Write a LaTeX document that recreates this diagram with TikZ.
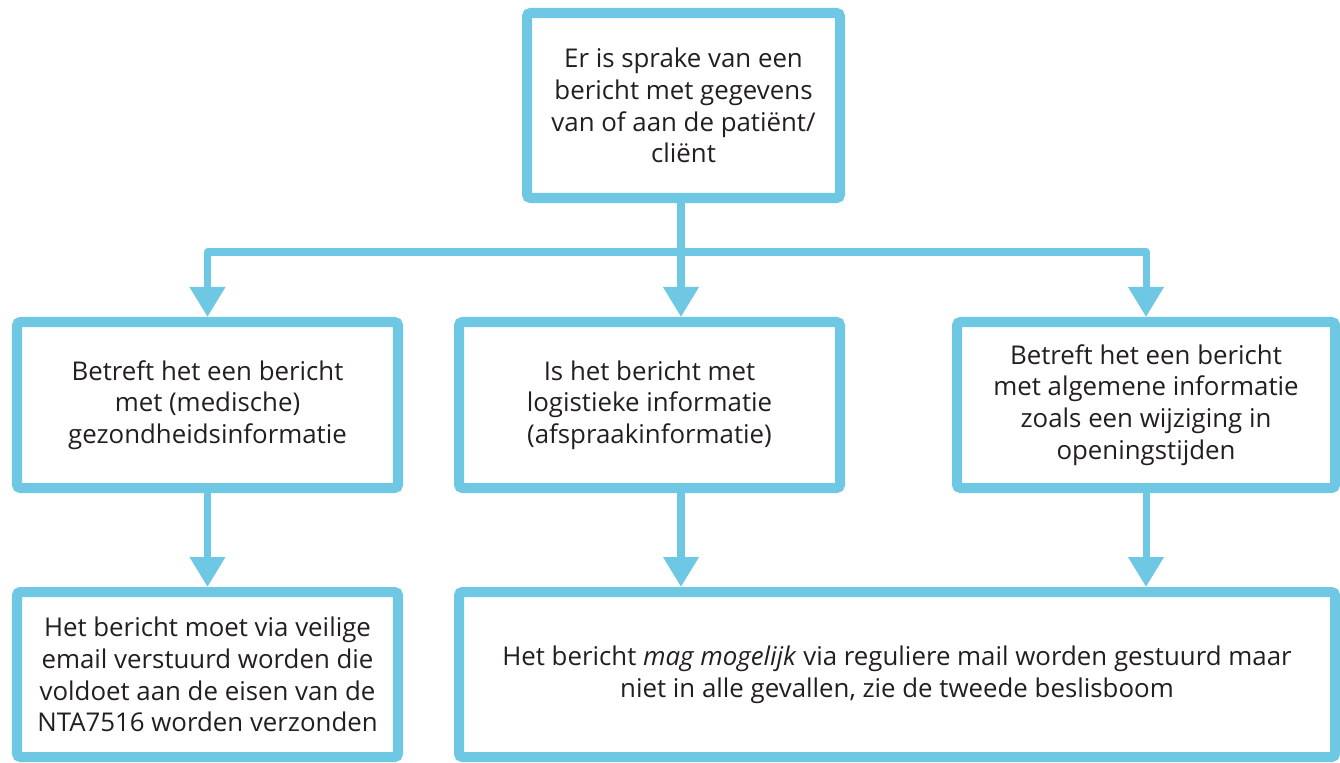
\documentclass[tikz,border=0pt]{standalone}
\usepackage{fontspec}
\setmainfont{Open Sans}
\usetikzlibrary{arrows.meta}
\definecolor{flowblue}{HTML}{6EC8E4}
\definecolor{flowtext}{HTML}{231F20}

\begin{document}
\begin{tikzpicture}[x=1cm, y=1cm]
                \tikzset{Box/.style = {draw=flowblue, line width=5.7pt, rounded corners=2pt, fill=white,
                                       text=flowtext, align=center, inner sep=0pt,
                                       font=\fontsize{14.7}{18}\selectfont},
                         Line/.style = {draw=flowblue, line width=4pt, line join=round},
                         Flow/.style = {Line, -{Triangle[width=0.68cm, length=0.6cm]}}}
                \useasboundingbox (0,0) rectangle (26.8,-15.24);
                \node[Box, minimum width=6.26cm, minimum height=3.7cm] (Q0) at (13.67,-2.11)
                        {Er is sprake van een\\bericht met gegevens\\van of aan de patiënt/\\cliënt};
                \node[Box, minimum width=7.62cm, minimum height=3.32cm] (Q1) at (4.15,-8.10)
                        {Betreft het een bericht\\met (medische)\\gezondheidsinformatie};
                \node[Box, minimum width=7.62cm, minimum height=3.32cm] (Q2) at (12.99,-8.10)
                        {Is het bericht met\\logistieke informatie\\(afspraakinformatie)};
		\node[Box, minimum width=7.56cm, minimum height=3.32cm] (Q3) at (22.92,-8.10)
                        {Betreft het een bericht\\met algemene informatie\\zoals een wijziging in\\openingstijden};
                \node[Box, minimum width=7.62cm, minimum height=3.30cm] (A1) at (4.15,-13.49)
                        {Het bericht moet via veilige\\email verstuurd worden die\\voldoet aan de eisen van de\\NTA7516 worden verzonden};
		\node[Box, minimum width=17.52cm, minimum height=3.30cm] (A2) at (17.94,-13.49)
                        {Het bericht \textit{mag mogelijk} via reguliere mail worden gestuurd maar\\niet in alle gevallen, zie de tweede beslisboom};
                \coordinate (Split) at ([xshift=-0.05cm]Q0.south |- 0,-5.04);
		\draw[Line] (Split |- Q0.south) -- (Split);
		\draw[Flow] (Split) -| (Q1.north);
		\draw[Flow] (Split) -- (Split |- Q2.north);
		\draw[Flow] (Split) -| (Q3.north);
		\draw[Flow] (Q1.south) -- (A1.north);
		\draw[Flow] (Split |- Q2.south) -- (Split |- A2.north);
		\draw[Flow] (Q3.south) -- (Q3.south |- A2.north);

            \end{tikzpicture}
\end{document}
